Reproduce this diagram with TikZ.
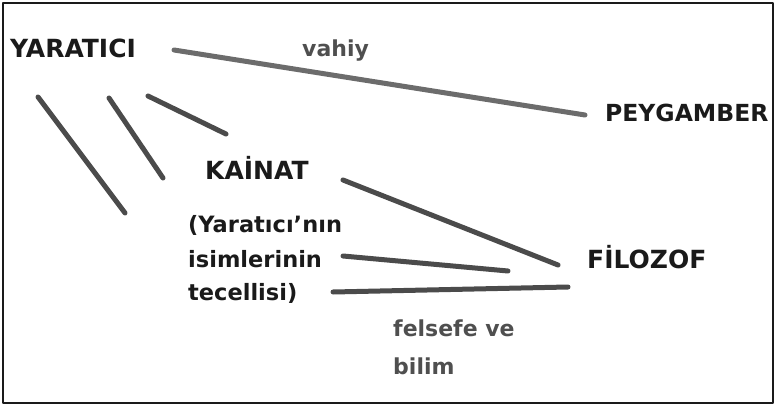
\documentclass[tikz,border=0pt]{standalone}
\usepackage{fontspec}
\setmainfont{DejaVu Sans}
\usepackage{tikz}
\usetikzlibrary{positioning}
\definecolor{inkc}{HTML}{1A1A1A}
\definecolor{labc}{HTML}{4F4F4F}
\definecolor{barc}{HTML}{4B4B4B}
\definecolor{revc}{HTML}{6C6C6C}
\tikzset{
  head/.style={anchor=base west, inner sep=0pt, text=inkc, font=\bfseries\fontsize{25}{29}\selectfont},
  note/.style={anchor=base west, inner sep=0pt, text=inkc, font=\bfseries\fontsize{22.5}{26}\selectfont},
  lab/.style={anchor=base west, inner sep=0pt, text=labc, font=\bfseries\fontsize{22}{26}\selectfont},
  bar/.style={draw=barc, line width=5pt},
  every picture/.style={line cap=round, line join=round}
}

\begin{document}
\begin{tikzpicture}[x=1pt, y=-1pt]
  \useasboundingbox (0,0) rectangle (776,406);
  \draw[inkc, line width=1.5pt, line cap=butt] (3,3) rectangle (773,403);

  % words
  \node[head] (yaratici) at (10,58) {YARATICI};
  \node[head, font=\bfseries\fontsize{23.5}{28}\selectfont] (peygamber) at (605,122) {PEYGAMBER};
  \node[head] (kainat) at (205,180) {KAİNAT};
  \node[head] (filozof) at (587,268) {FİLOZOF};
  \node[note] (isim1) at (188,233) {(Yaratıcı'nın};
  \node[note] (isim2) at (188,267) {isimlerinin};
  \node[note] (isim3) at (188,300) {tecellisi)};
  \node[lab] (vahiy) at (302,57) {vahiy};
  \node[lab] (felsefe) at (393,336) {felsefe ve};
  \node[lab] (bilim) at (393,374) {bilim};

  % line ends
  \coordinate (v1) at (174,50);
  \coordinate (v2) at (585,115);
  \coordinate (a1) at (38,97);
  \coordinate (a2) at (125,213);
  \coordinate (b1) at (109,98);
  \coordinate (b2) at (163,178);
  \coordinate (c1) at (148,96);
  \coordinate (c2) at (226,134);
  \coordinate (k1) at (343,180);
  \coordinate (k2) at (558,265);
  \coordinate (i1) at (343,256);
  \coordinate (i2) at (508,271);
  \coordinate (t1) at (333,292);
  \coordinate (t2) at (568,287);

  % lines
  \draw[bar, draw=revc] (v1) -- (v2);
  \draw[bar] (a1) -- (a2);
  \draw[bar] (b1) -- (b2);
  \draw[bar] (c1) -- (c2);
  \draw[bar] (k1) -- (k2);
  \draw[bar] (i1) -- (i2);
  \draw[bar] (t1) -- (t2);
\end{tikzpicture}
\end{document}
